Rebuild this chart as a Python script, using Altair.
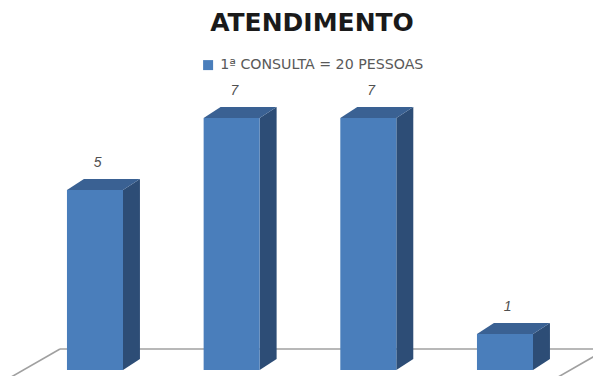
import altair as alt
import pandas as pd

# Chart content
title_text = "ATENDIMENTO"
series_name = "1ª CONSULTA = 20 PESSOAS"
groups = ["G1", "G2", "G3", "G4"]
values = [5, 7, 7, 1]

# Geometry of the pseudo-3D columns, in data units
HALF_W = 0.205   # half width of the front face (category units)
DX = 0.124       # depth shift to the right (category units)
DY = 0.306       # depth shift upwards (value units)
X_DOMAIN = [-0.695, 3.644]
Y_DOMAIN = [-0.167, 10.278]

FRONT = "#4A7EBB"
SIDE = "#2D4D76"
TOP = "#3A6193"
FLOOR = "#A0A0A0"

front = pd.DataFrame({
    "grupo": groups,
    "idx": range(len(values)),
    "valor": values,
    "serie": series_name,
})
front["x0"] = front["idx"] - HALF_W
front["x1"] = front["idx"] + HALF_W
front["xl"] = front["idx"] + 0.02
front["base"] = 0.0

side_rows, top_rows = [], []
for g, i, v in zip(groups, range(len(values)), values):
    x0, x1 = i - HALF_W, i + HALF_W
    side_rows += [
        {"grupo": g, "x": x1, "y": v, "y2": 0.0},
        {"grupo": g, "x": x1 + DX, "y": v + DY, "y2": DY},
    ]
    top_rows += [
        {"grupo": g, "y": v, "x": x0, "x2": x1},
        {"grupo": g, "y": v + DY, "x": x0 + DX, "x2": x1 + DX},
    ]
side = pd.DataFrame(side_rows)
top = pd.DataFrame(top_rows)

# Floor outline: back edge plus the two receding edges
floor = pd.DataFrame({
    "x": [-0.256, -0.256, 3.746],
    "y": [0.583, 0.583, 0.583],
    "x2": [3.746, -0.906, 3.096],
    "y2": [0.583, -0.833, -0.833],
})

xs = alt.Scale(domain=X_DOMAIN, nice=False, zero=False)
ys = alt.Scale(domain=Y_DOMAIN, nice=False, zero=False)

floor_layer = alt.Chart(floor).mark_rule(color=FLOOR, strokeWidth=1.6).encode(
    x=alt.X("x:Q", scale=xs, axis=None),
    y=alt.Y("y:Q", scale=ys, axis=None),
    x2="x2:Q",
    y2="y2:Q",
)

side_layer = alt.Chart(side).mark_area(orient="vertical", color=SIDE).encode(
    x=alt.X("x:Q", scale=xs, axis=None),
    y=alt.Y("y:Q", scale=ys, axis=None, stack=None),
    y2="y2:Q",
    detail="grupo:N",
)

top_layer = alt.Chart(top).mark_area(orient="horizontal", color=TOP).encode(
    y=alt.Y("y:Q", scale=ys, axis=None),
    x=alt.X("x:Q", scale=xs, axis=None, stack=None),
    x2="x2:Q",
    detail="grupo:N",
)

front_layer = alt.Chart(front).mark_rect().encode(
    x=alt.X("x0:Q", scale=xs, axis=None),
    x2="x1:Q",
    y=alt.Y("valor:Q", scale=ys, axis=None),
    y2="base:Q",
    color=alt.Color(
        "serie:N",
        scale=alt.Scale(range=[FRONT]),
        legend=alt.Legend(
            orient="none", legendX=201, legendY=58, title=None,
            symbolType="square", symbolSize=100, symbolStrokeWidth=0,
            labelFont="DejaVu Sans", labelFontSize=14.2, labelColor="#595959",
            labelOffset=5, labelLimit=0, padding=0,
        ),
    ),
)

labels = alt.Chart(front).mark_text(
    font="Liberation Sans", fontStyle="italic", fontSize=14, color="#505050",
    baseline="middle", align="center", dy=-27,
).encode(
    x=alt.X("xl:Q", scale=xs, axis=None),
    y=alt.Y("valor:Q", scale=ys, axis=None),
    text="valor:Q",
)

title = alt.Chart(pd.DataFrame({"t": [title_text]})).mark_text(
    font="DejaVu Sans", fontWeight="bold", fontSize=25, color="#1A1A1A",
    align="center", baseline="middle",
).encode(
    x=alt.value(312),
    y=alt.value(23),
    text="t:N",
)

chart = alt.layer(
    floor_layer, side_layer, top_layer, front_layer, labels, title
).properties(
    width=593, height=376, padding=0, autosize="none",
).configure(
    background="white",
    view=alt.ViewConfig(stroke=None),
)

chart.save("out.html", embed_options={"renderer": "svg", "actions": False})
